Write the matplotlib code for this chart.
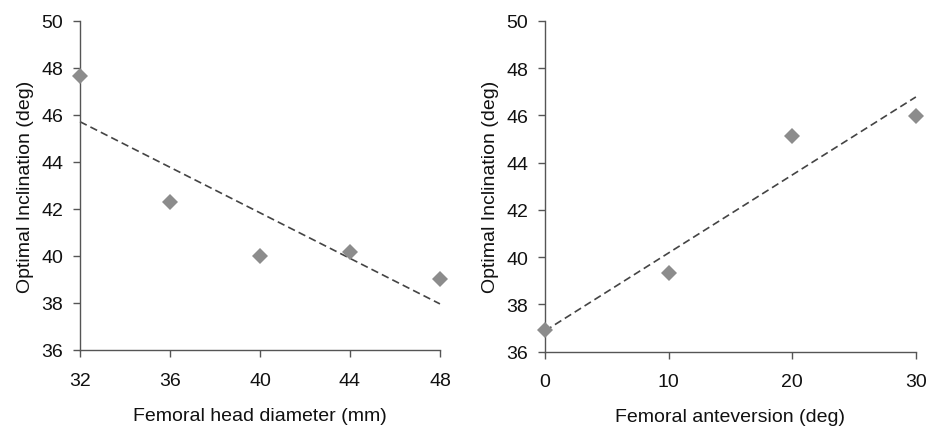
import numpy as np
import matplotlib
matplotlib.use("Agg")
import matplotlib.pyplot as plt

plt.rcParams['font.family'] = ['Liberation Sans', 'DejaVu Sans']

# Left panel data
head_diameter = [32, 36, 40, 44, 48]
incl_head = [47.66, 42.30, 40.00, 40.17, 39.04]
head_ticks = [32, 36, 40, 44, 48]

# Right panel data
anteversion = [0, 10, 20, 30]
incl_antev = [36.92, 39.31, 45.11, 45.98]
antev_ticks = [0, 10, 20, 30]

y_ticks = [36, 38, 40, 42, 44, 46, 48, 50]
ylabel = "Optimal Inclination (deg)"

fig = plt.figure(figsize=(9.27, 4.27), dpi=100)
ax1 = fig.add_axes([0.0863, 0.178, 0.3883, 0.771])
ax2 = fig.add_axes([0.588, 0.174, 0.400, 0.775])

spine_col = "#555555"
text_col = "#111111"
marker_col = "#8c8c8c"
line_col = "#444444"

def style(ax, xs, ys, xticks, xlabel):
    ax.set_ylim(36, 50)
    ax.set_xlim(min(xticks), max(xticks))
    ax.set_xticks(xticks)
    ax.set_yticks(y_ticks)
    for s in ['top', 'right']:
        ax.spines[s].set_visible(False)
    for s in ['left', 'bottom']:
        ax.spines[s].set_color(spine_col)
        ax.spines[s].set_linewidth(1.0)
    ax.tick_params(axis='both', direction='out', length=5, width=1.0,
                   color=spine_col, labelsize=14, labelcolor=text_col)
    ax.tick_params(axis='x', pad=10.5)
    ax.tick_params(axis='y', pad=7)
    ax.set_xlabel(xlabel, fontsize=14, color=text_col, labelpad=13)
    ax.set_ylabel(ylabel, fontsize=14, color=text_col, labelpad=5)
    # linear trend
    coef = np.polyfit(xs, ys, 1)
    xx = np.array([min(xticks), max(xticks)])
    ax.plot(xx, np.polyval(coef, xx), linestyle=(0, (4.5, 2.5)), color=line_col,
            linewidth=1.2, zorder=2, clip_on=False)
    ax.plot(xs, ys, linestyle='none', marker='D', markersize=8.5,
            color=marker_col, markeredgewidth=0, zorder=3, clip_on=False)

style(ax1, head_diameter, incl_head, head_ticks, "Femoral head diameter (mm)")
style(ax2, anteversion, incl_antev, antev_ticks, "Femoral anteversion (deg)")

fig.savefig("out.png", dpi=100)
